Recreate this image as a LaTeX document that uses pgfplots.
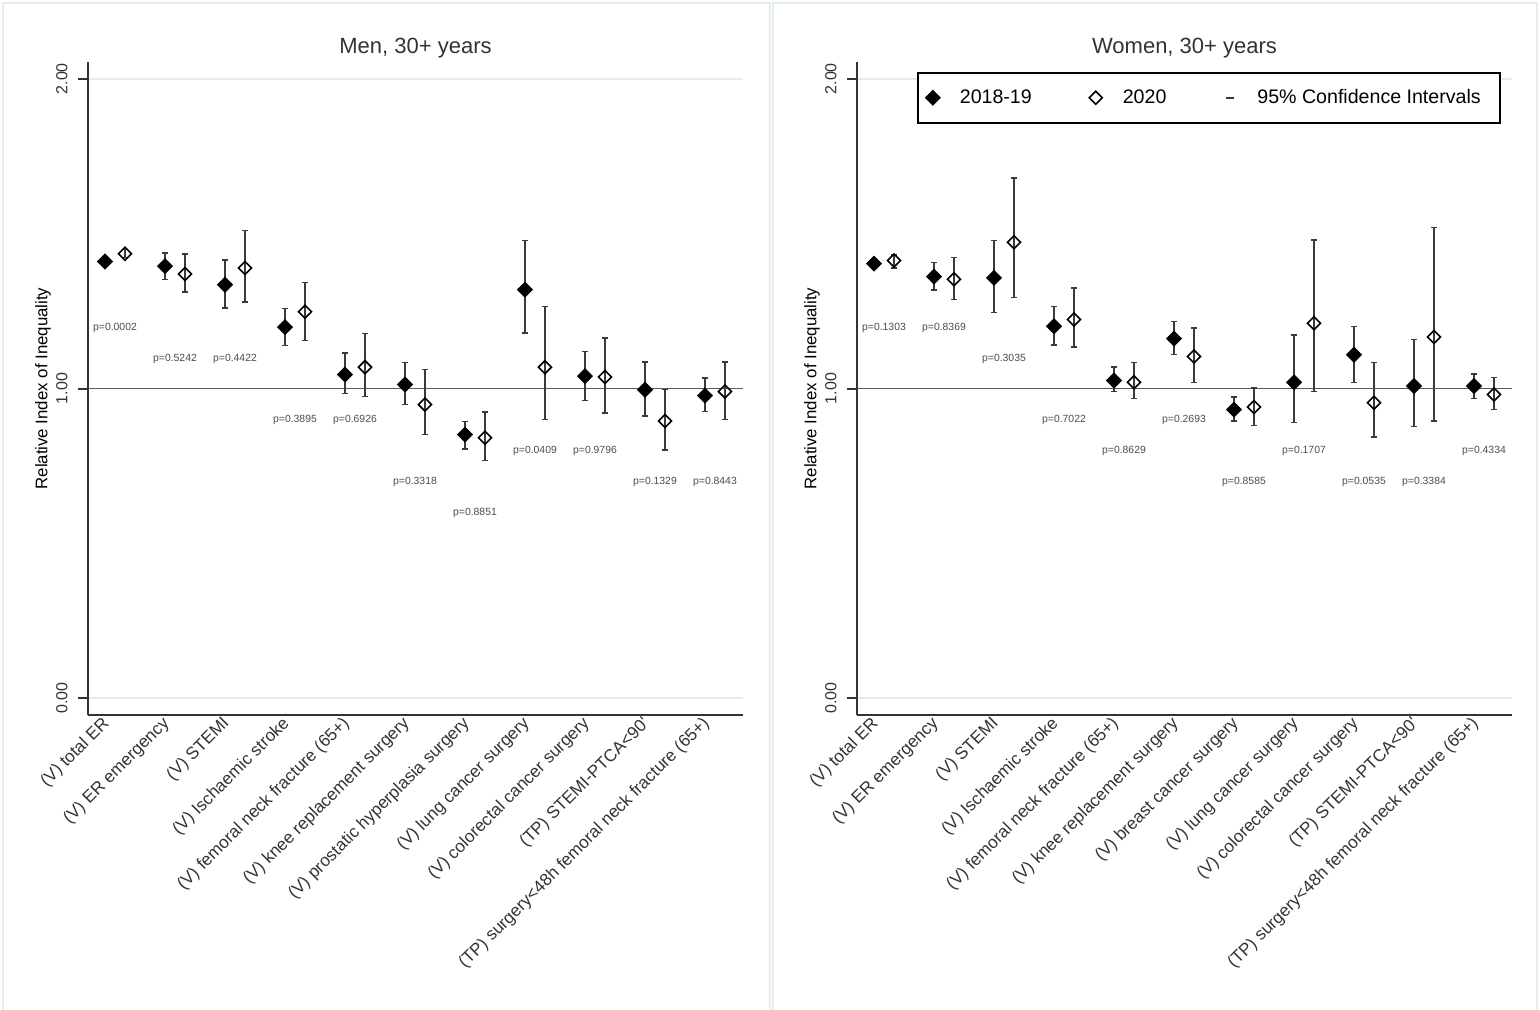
\documentclass[border=0pt]{standalone}
\usepackage{fontspec}
\setmainfont{Liberation Sans}
\usepackage{pgfplots}
\pgfplotsset{compat=1.18}
\usepackage{pgfplotstable}
\definecolor{axisgray}{HTML}{333333}
\definecolor{errgray}{HTML}{3A3A3A}
\definecolor{gridc}{HTML}{E3ECEF}
\definecolor{framec}{HTML}{E6EDF0}
\definecolor{refline}{HTML}{5A5A5A}
\definecolor{ptext}{HTML}{4A4A55}

% Men: 2018-19
\pgfplotstableread{
x y lo hi
-0.1667 1.410 1.402 1.418
0.8333 1.395 1.352 1.438
1.8333 1.335 1.260 1.415
2.8333 1.198 1.139 1.259
3.8333 1.045 0.983 1.114
4.8333 1.013 0.948 1.083
5.8333 0.851 0.805 0.894
6.8333 1.319 1.179 1.477
7.8333 1.040 0.961 1.119
8.8333 0.996 0.911 1.086
9.8333 0.977 0.926 1.034
}\menA
% Men: 2020
\pgfplotstableread{
x y lo hi
0.1667 1.435 1.423 1.448
1.1667 1.370 1.311 1.434
2.1667 1.389 1.279 1.510
3.1667 1.248 1.155 1.343
4.1667 1.069 0.974 1.177
5.1667 0.948 0.851 1.061
6.1667 0.841 0.768 0.924
7.1667 1.069 0.900 1.265
8.1667 1.037 0.921 1.163
9.1667 0.895 0.802 0.996
10.1667 0.990 0.900 1.085
}\menB
\pgfplotstableread{
x y label
0 1.197 p=0.0002
1 1.097 p=0.5242
2 1.097 p=0.4422
3 0.897 p=0.3895
4 0.897 p=0.6926
5 0.697 p=0.3318
6 0.597 p=0.8851
7 0.797 p=0.0409
8 0.797 p=0.9796
9 0.697 p=0.1329
10 0.697 p=0.8443
}\menP
% Women: 2018-19
\pgfplotstableread{
x y lo hi
-0.1667 1.403 1.395 1.411
0.8333 1.361 1.318 1.407
1.8333 1.357 1.246 1.477
2.8333 1.201 1.141 1.265
3.8333 1.026 0.991 1.069
4.8333 1.161 1.109 1.216
5.8333 0.932 0.895 0.972
6.8333 1.020 0.891 1.173
7.8333 1.109 1.020 1.201
8.8333 1.008 0.877 1.158
9.8333 1.008 0.967 1.047
}\womA
% Women: 2020
\pgfplotstableread{
x y lo hi
0.1667 1.413 1.389 1.431
1.1667 1.353 1.287 1.422
2.1667 1.472 1.293 1.680
3.1667 1.223 1.134 1.324
4.1667 1.020 0.967 1.083
5.1667 1.103 1.020 1.195
6.1667 0.940 0.881 1.001
7.1667 1.211 0.990 1.480
8.1667 0.954 0.843 1.083
9.1667 1.166 0.895 1.520
10.1667 0.981 0.932 1.035
}\womB
\pgfplotstableread{
x y label
0 1.197 p=0.1303
1 1.197 p=0.8369
2 1.097 p=0.3035
3 0.897 p=0.7022
4 0.797 p=0.8629
5 0.897 p=0.2693
6 0.697 p=0.8585
7 0.797 p=0.1707
8 0.697 p=0.0535
9 0.697 p=0.3384
10 0.797 p=0.4334
}\womP

\pgfplotsset{
  every axis title shift=0pt,
  riiaxis/.style={
    scale only axis, width=327.5pt, height=326.5pt,
    xmin=-0.45, xmax=10.467, ymin=-0.054, ymax=2.054,
    axis lines*=left,
    axis line style={line width=1pt, color=axisgray},
    clip=false,
    xtick={0,1,2,3,4,5,6,7,8,9,10},
    major x tick style={draw=none},
    xticklabel style={rotate=45, anchor=north east, inner sep=1pt, xshift=-0.35pt, yshift=9.5pt, font=\fontsize{8.6}{10}\selectfont, text=axisgray},
    ytick={0,2}, yticklabels={0.00,2.00},
    extra y ticks={1}, extra y tick labels={1.00},
    extra y tick style={ymajorgrids=true, major grid style={line width=0.8pt, color=refline}},
    tick align=outside, major tick length=5pt,
    major y tick style={line width=1pt, color=axisgray},
    yticklabel style={rotate=90, anchor=south, inner sep=5pt, font=\fontsize{8}{9}\selectfont, text=axisgray},
    ymajorgrids, major grid style={line width=0.8pt, color=gridc},
    ylabel={Relative Index of Inequality},
    ylabel style={at={(axis description cs:-0.0687,0.5)}, anchor=center, font=\fontsize{8.4}{10}\selectfont, text=black},
    title style={at={(axis description cs:0.5,1.021)}, anchor=center, yshift=0pt, font=\fontsize{11}{13}\selectfont, text=axisgray},
  },
  ebars/.style={
    error bars/y dir=both, error bars/y explicit,
    error bars/error mark=-,
    error bars/error bar style={line width=0.7pt, color=errgray},
    error bars/error mark options={rotate=90, mark size=1.3pt, line width=0.7pt, color=errgray}},
  s18/.style={only marks, mark=square*, mark size=2.65pt,
    mark options={rotate=45, fill=black, draw=black, line width=0.4pt}, ebars},
  s20/.style={only marks, mark=square, mark size=2.3pt,
    mark options={rotate=45, draw=black, line width=0.8pt}, ebars},
  pstyle/.style={only marks, mark=none, nodes near coords, point meta=explicit symbolic,
    nodes near coords style={anchor=center, inner sep=0pt, font=\fontsize{5.2}{6}\selectfont, text=ptext}},
}

\begin{document}
\begin{tikzpicture}
\useasboundingbox (0,0) rectangle (770pt,504.5pt);
\draw[color=framec, line width=0.8pt] (1.5pt,-5pt) rectangle (385pt,503pt);
\draw[color=framec, line width=0.8pt] (386.5pt,-5pt) rectangle (768.5pt,503pt);

\begin{axis}[riiaxis, at={(44pt,147pt)}, anchor=south west,
  title={Men, 30+ years},
  xticklabels={{(V) total ER},{(V) ER emergency},{(V) STEMI},{(V) Ischaemic stroke},{(V) femoral neck fracture (65+)},{(V) knee replacement surgery},{(V) prostatic hyperplasia surgery},{(V) lung cancer surgery},{(V) colorectal cancer surgery},{(TP) STEMI-PTCA<90\textquotesingle},{(TP) surgery<48h femoral neck fracture (65+)}},
]
\addplot[forget plot, s18] table[x=x, y=y, y error plus expr=\thisrow{hi}-\thisrow{y}, y error minus expr=\thisrow{y}-\thisrow{lo}] {\menA};
\addplot[forget plot, s20] table[x=x, y=y, y error plus expr=\thisrow{hi}-\thisrow{y}, y error minus expr=\thisrow{y}-\thisrow{lo}] {\menB};
\addplot[forget plot, pstyle] table[x=x, y=y, meta=label] {\menP};
\end{axis}

\begin{axis}[riiaxis, at={(428.5pt,147pt)}, anchor=south west,
  title={Women, 30+ years},
  xticklabels={{(V) total ER},{(V) ER emergency},{(V) STEMI},{(V) Ischaemic stroke},{(V) femoral neck fracture (65+)},{(V) knee replacement surgery},{(V) breast cancer surgery},{(V) lung cancer surgery},{(V) colorectal cancer surgery},{(TP) STEMI-PTCA<90\textquotesingle},{(TP) surgery<48h femoral neck fracture (65+)}},
  legend columns=3,
  legend cell align=left,
  legend style={at={(axis description cs:0.0917,0.9847)}, anchor=north west,
    draw=black, line width=0.8pt, inner xsep=3.5pt, inner ysep=5.2pt,
    font=\fontsize{9.8}{11}\selectfont,
    nodes={inner xsep=0pt, inner ysep=3pt},
    /tikz/every odd column/.append style={column sep=9.5pt},
    /tikz/every even column/.append style={column sep=28pt}},
]
\addplot[forget plot, s18] table[x=x, y=y, y error plus expr=\thisrow{hi}-\thisrow{y}, y error minus expr=\thisrow{y}-\thisrow{lo}] {\womA};
\addplot[forget plot, s20] table[x=x, y=y, y error plus expr=\thisrow{hi}-\thisrow{y}, y error minus expr=\thisrow{y}-\thisrow{lo}] {\womB};
\addplot[forget plot, pstyle] table[x=x, y=y, meta=label] {\womP};
\addlegendimage{legend image code/.code={\path[draw=none, fill=none] (-4pt,-3pt) rectangle (4pt,3pt); \draw[line width=0.4pt, mark=square*, mark size=2.65pt, mark options={rotate=45, fill=black, draw=black}] plot coordinates {(0pt,0pt)};}}
\addlegendentry{2018-19}
\addlegendimage{legend image code/.code={\path[draw=none, fill=none] (-4pt,-3pt) rectangle (4pt,3pt); \draw[line width=0.8pt, mark=square, mark size=2.3pt, mark options={rotate=45, draw=black}] plot coordinates {(0pt,0pt)};}}
\addlegendentry{2020}
\addlegendimage{legend image code/.code={\path[draw=none, fill=none] (-4pt,-3pt) rectangle (4pt,3pt); \draw[line width=1pt, color=errgray] (-2pt,0pt) -- (2pt,0pt);}}
\addlegendentry{95\% Confidence Intervals\kern6pt}
\end{axis}
\end{tikzpicture}
\end{document}
